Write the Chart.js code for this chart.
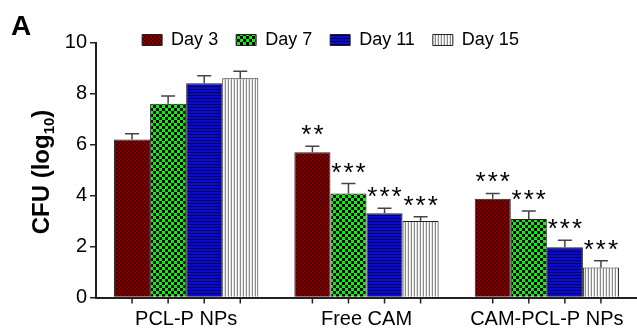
<!DOCTYPE html>
<html>
<head>
<meta charset="utf-8">
<script src="https://cdn.jsdelivr.net/npm/chart.js@4"></script>
<style>
    html, body { margin: 0; padding: 0; background: #fff; }
    #wrap { width: 637px; height: 328px; position: relative; }
</style>
</head>
<body>
<div id="wrap"><canvas id="cfuChart"></canvas></div>
<script>
// 1. DATA
const categories = ['PCL-P NPs', 'Free CAM', 'CAM-PCL-P NPs'];
const seriesLabels = ['Day 3', 'Day 7', 'Day 11', 'Day 15'];

const day3 = [6.2, 5.7, 3.87];
const day7 = [7.6, 4.08, 3.08];
const day11 = [8.4, 3.3, 1.97];
const day15 = [8.6, 3.0, 1.18];

// standard error (upper bar only)
const day3Err = [0.22, 0.23, 0.21];
const day7Err = [0.3, 0.39, 0.31];
const day11Err = [0.3, 0.2, 0.28];
const day15Err = [0.27, 0.17, 0.26];

// significance marks
const day3Sig = ['', '**', '***'];
const day7Sig = ['', '***', '***'];
const day11Sig = ['', '***', '***'];
const day15Sig = ['', '***', '***'];

const yTicks = [0, 2, 4, 6, 8, 10];

const FONT = '"Liberation Sans", Arial, sans-serif';
Chart.defaults.font.family = FONT;
Chart.defaults.color = '#000';

// 2. FILL PATTERNS
function makePattern(size, paint) {
    const c = document.createElement('canvas');
    c.width = size; c.height = size;
    paint(c.getContext('2d'));
    return c.getContext('2d').createPattern(c, 'repeat');
}

// dark red, fine checker
const redFill = makePattern(4, g => {
    g.fillStyle = '#860000'; g.fillRect(0, 0, 4, 4);
    g.fillStyle = '#4a0000'; g.fillRect(0, 0, 2, 2); g.fillRect(2, 2, 2, 2);
});
// green / black checker
const greenFill = makePattern(6, g => {
    g.fillStyle = '#10f010'; g.fillRect(0, 0, 6, 6);
    g.fillStyle = '#050505'; g.fillRect(0, 0, 3, 3); g.fillRect(3, 3, 3, 3);
});
// blue with horizontal dark lines
const blueFill = makePattern(3, g => {
    g.fillStyle = '#0a0ad2'; g.fillRect(0, 0, 3, 3);
    g.fillStyle = '#000055'; g.fillRect(0, 2, 3, 1);
});
// white with vertical grey lines
const whiteFill = makePattern(3, g => {
    g.fillStyle = '#ffffff'; g.fillRect(0, 0, 3, 3);
    g.fillStyle = '#8a8a8a'; g.fillRect(0, 0, 1, 3);
    g.fillStyle = '#e2e2e2'; g.fillRect(2, 0, 1, 3);
});

const errors = [day3Err, day7Err, day11Err, day15Err];
const marks = [day3Sig, day7Sig, day11Sig, day15Sig];

// 3. EXTRA DRAWING (panel letter, axis title, ticks, error bars, stars)
const decor = {
    id: 'decor',
    afterLayout(chart) {
        // legend overlaps the top of the plot a little; don't let it clip its own text
        chart.legend.bottom += 20;
        chart.legend.height += 20;
    },
    afterDatasetsDraw(chart) {
        const ctx = chart.ctx;
        const y = chart.scales.y;
        const area = chart.chartArea;
        ctx.save();

        // error bars + x ticks under each bar
        chart.data.datasets.forEach((ds, di) => {
            const meta = chart.getDatasetMeta(di);
            meta.data.forEach((bar, i) => {
                const top = y.getPixelForValue(ds.data[i] + errors[di][i]);
                ctx.strokeStyle = '#444';
                ctx.lineWidth = 1.5;
                ctx.beginPath();
                ctx.moveTo(bar.x, bar.y);
                ctx.lineTo(bar.x, top);
                ctx.moveTo(bar.x - 7, top);
                ctx.lineTo(bar.x + 7, top);
                ctx.stroke();

                ctx.strokeStyle = '#222';
                ctx.beginPath();
                ctx.moveTo(bar.x, area.bottom);
                ctx.lineTo(bar.x, area.bottom + 6);
                ctx.stroke();

                const m = marks[di][i];
                if (m) {
                    ctx.fillStyle = '#000';
                    ctx.font = '26px ' + FONT;
                    ctx.letterSpacing = '2px';
                    ctx.textAlign = 'center';
                    ctx.textBaseline = 'alphabetic';
                    ctx.fillText(m, bar.x + 1, top - 3);
                    ctx.letterSpacing = '0px';
                }
            });
        });

        // panel letter
        ctx.fillStyle = '#000';
        ctx.textAlign = 'left';
        ctx.textBaseline = 'alphabetic';
        ctx.font = 'bold 28px ' + FONT;
        ctx.fillText('A', 11, 35);

        // y axis title with subscript
        const big = 'bold 24px ' + FONT;
        const small = 'bold 15px ' + FONT;
        ctx.font = big;
        const w1 = ctx.measureText('CFU (log').width;
        const w3 = ctx.measureText(')').width;
        ctx.font = small;
        const w2 = ctx.measureText('10').width;
        const total = w1 + w2 + w3;
        ctx.translate(49, 172);
        ctx.rotate(-Math.PI / 2);
        let x = -total / 2;
        ctx.font = big;
        ctx.fillText('CFU (log', x, 0);
        x += w1;
        ctx.font = small;
        ctx.fillText('10', x, 5);
        x += w2;
        ctx.font = big;
        ctx.fillText(')', x, 0);

        ctx.restore();
    }
};

// 4. CHART
const fills = [redFill, greenFill, blueFill, whiteFill];
const series = [day3, day7, day11, day15];

new Chart(document.getElementById('cfuChart'), {
    type: 'bar',
    data: {
        labels: categories,
        datasets: series.map((vals, i) => ({
            label: seriesLabels[i],
            data: vals,
            backgroundColor: fills[i],
            borderColor: '#222',
            borderWidth: 1,
            categoryPercentage: 0.8,
            barPercentage: 1.0
        }))
    },
    options: {
        responsive: true,
        maintainAspectRatio: false,
        animation: false,
        layout: { padding: { left: 24, top: 13, right: 0, bottom: 0 } },
        plugins: {
            legend: {
                position: 'top',
                maxHeight: 29.5,
                labels: {
                    boxWidth: 20,
                    boxHeight: 11,
                    padding: 18,
                    color: '#000',
                    font: { size: 18 }
                }
            },
            tooltip: { enabled: false }
        },
        scales: {
            x: {
                grid: { display: false },
                border: { display: true, color: '#222', width: 2 },
                ticks: { font: { size: 20 }, color: '#000', padding: 2, maxRotation: 0 },
                afterFit(s) { s.height = 30.5; }
            },
            y: {
                min: 0,
                max: 10,
                afterBuildTicks(s) { s.ticks = yTicks.map(v => ({ value: v })); },
                grid: { drawOnChartArea: false, drawTicks: true, tickLength: 6, color: '#222', lineWidth: 1.5 },
                border: { display: true, color: '#222', width: 2 },
                ticks: { font: { size: 20 }, color: '#000', padding: 3 },
                afterFit(s) { s.width = 72; }
            }
        }
    },
    plugins: [decor]
});
</script>
</body>
</html>
